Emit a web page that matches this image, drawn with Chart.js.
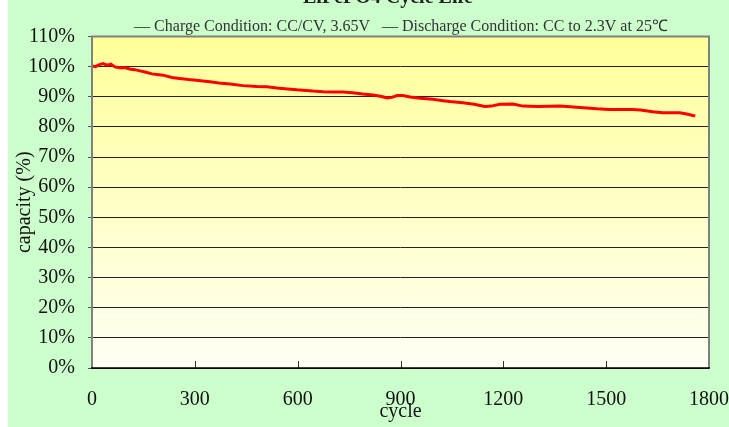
<!DOCTYPE html>
<html>
<head>
<meta charset="utf-8">
<script src="https://cdn.jsdelivr.net/npm/chart.js@4"></script>
<style>
  html, body { margin: 0; padding: 0; background: #fff; }
  #wrap { width: 729px; height: 427px; }
</style>
</head>
<body>
<div id="wrap"><canvas id="cycleChart" width="729" height="427"></canvas></div>
<script>
// --- DATA ---
const cycles = [
  0, 10, 20, 32, 45, 55, 67, 80, 96, 110, 125, 140, 155, 175, 195, 210, 233, 255, 283, 310,
  344, 370, 403, 440, 481, 510, 540, 570, 598, 615, 645, 674, 700, 732, 760, 790, 820, 845, 861, 875,
  890, 907, 928, 957, 995, 1024, 1044, 1082, 1115, 1146, 1165, 1190, 1228, 1257, 1300, 1365, 1415, 1443, 1473, 1511,
  1549, 1578, 1600, 1636, 1665, 1677, 1715, 1735, 1753, 1760
];
const capacity = [
  100.2, 100.0, 100.6, 101.0, 100.5, 100.8, 99.9, 99.6, 99.7, 99.2, 99.0, 98.6, 98.2, 97.6, 97.3, 97.1, 96.4, 96.1, 95.7, 95.4,
  95.0, 94.6, 94.2, 93.7, 93.4, 93.3, 92.9, 92.6, 92.3, 92.2, 91.9, 91.7, 91.6, 91.6, 91.3, 90.9, 90.6, 90.1, 89.6, 89.8,
  90.4, 90.4, 89.9, 89.5, 89.2, 88.7, 88.4, 88.0, 87.5, 86.8, 86.9, 87.5, 87.6, 86.9, 86.8, 86.9, 86.5, 86.3, 86.0, 85.8,
  85.8, 85.8, 85.6, 85.0, 84.7, 84.7, 84.7, 84.3, 83.8, 83.7
];
const xTicks = [0, 300, 600, 900, 1200, 1500, 1800];
const yMax = 110;

const chartTitle = "LiFePO4 Cycle Life";
const conditionText = "\u2014 Charge Condition: CC/CV, 3.65V   \u2014 Discharge Condition: CC to 2.3V at 25\u2103";

const serif = "'Liberation Serif', 'Times New Roman', serif";

// backgrounds: green page, yellow gradient plot
const backdrop = {
  id: "backdrop",
  beforeDraw(chart) {
    const { ctx, chartArea: a } = chart;
    ctx.save();
    ctx.fillStyle = "#ffffff";
    ctx.fillRect(0, 0, chart.width, chart.height);
    ctx.fillStyle = "#ccffcc";
    ctx.fillRect(8, 0, chart.width - 8, chart.height);
    const g = ctx.createLinearGradient(0, a.top, 0, a.bottom);
    g.addColorStop(0, "#ffff99");
    g.addColorStop(1, "#fffff4");
    ctx.fillStyle = g;
    ctx.fillRect(a.left, a.top, a.right - a.left, a.bottom - a.top);
    ctx.restore();
  }
};

// frame, inward x ticks and the header texts
const frame = {
  id: "frame",
  afterDraw(chart) {
    const { ctx, chartArea: a } = chart;
    const xs = chart.scales.x;
    ctx.save();
    ctx.strokeStyle = "#333";
    ctx.lineWidth = 1;
    xTicks.forEach(v => {
      const px = Math.round(xs.getPixelForValue(v)) + 0.5;
      ctx.beginPath();
      ctx.moveTo(px, a.bottom);
      ctx.lineTo(px, a.bottom - 7);
      ctx.stroke();
    });
    ctx.strokeStyle = "#808080";
    ctx.lineWidth = 2;
    ctx.beginPath();
    ctx.moveTo(a.left, a.bottom);
    ctx.lineTo(a.left, a.top);
    ctx.lineTo(a.right, a.top);
    ctx.lineTo(a.right, a.bottom);
    ctx.stroke();
    ctx.strokeStyle = "#000";
    ctx.lineWidth = 1.5;
    ctx.beginPath();
    ctx.moveTo(a.left - 1, a.bottom);
    ctx.lineTo(a.right + 1, a.bottom);
    ctx.stroke();

    ctx.fillStyle = "#222";
    ctx.textAlign = "center";
    ctx.textBaseline = "alphabetic";
    ctx.font = "bold 20px " + serif;
    ctx.fillText(chartTitle, 388, 3);
    ctx.fillStyle = "#333";
    ctx.font = "16px " + serif;
    ctx.textBaseline = "middle";
    ctx.fillText(conditionText, 401, 27);
    ctx.restore();
  }
};

const ctx = document.getElementById("cycleChart").getContext("2d");
new Chart(ctx, {
  type: "line",
  data: {
    datasets: [{
      label: "capacity",
      data: cycles.map((c, i) => ({ x: c, y: capacity[i] })),
      borderColor: "#ff0000",
      borderWidth: 3,
      pointRadius: 0,
      tension: 0,
      fill: false
    }]
  },
  options: {
    responsive: false,
    animation: false,
    devicePixelRatio: 1,
    layout: { padding: { top: 36.5, right: 20, left: 0, bottom: 0 } },
    plugins: { legend: { display: false }, tooltip: { enabled: false } },
    scales: {
      x: {
        type: "linear",
        min: 0,
        max: 1800,
        afterFit(s) { s.height = 59; s.paddingLeft = 0; s.paddingRight = 0; },
        afterBuildTicks(s) { s.ticks = xTicks.map(v => ({ value: v })); },
        grid: { display: false, drawTicks: false },
        border: { display: false },
        ticks: {
          padding: 20,
          color: "#111",
          font: { family: serif, size: 20 },
          maxRotation: 0,
          callback: v => String(v)
        },
        title: {
          display: true,
          text: "cycle",
          color: "#111",
          font: { family: serif, size: 20 },
          padding: { top: 0, bottom: 3 }
        }
      },
      y: {
        min: 0,
        max: yMax,
        afterFit(s) { s.width = 92; },
        ticks: {
          stepSize: 10,
          padding: 13,
          color: "#111",
          font: { family: serif, size: 20 },
          callback: v => v + "%"
        },
        grid: { color: "#222", lineWidth: 1, tickLength: 4, tickColor: "#555" },
        border: { display: false },
        title: {
          display: true,
          text: "capacity (%)",
          color: "#111",
          font: { family: serif, size: 20 },
          padding: { top: 13, bottom: 0 }
        }
      }
    }
  },
  plugins: [backdrop, frame]
});
</script>
</body>
</html>
